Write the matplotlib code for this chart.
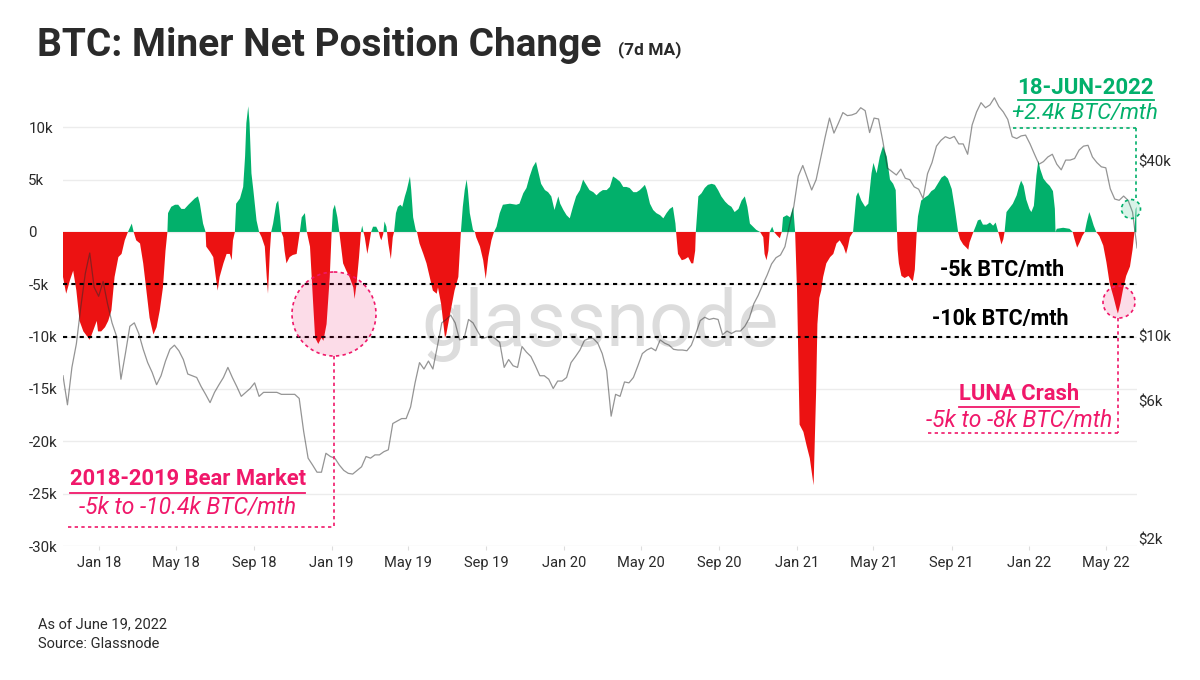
import matplotlib
matplotlib.use("Agg")
import matplotlib.pyplot as plt
import matplotlib.dates as mdates
import matplotlib.transforms as mtransforms
from matplotlib.patches import Circle
from matplotlib.lines import Line2D
import pandas as pd

plt.rcParams['font.family'] = ['Roboto', 'DejaVu Sans']

# Miner net position change (7d MA), thousand BTC per month
net_dates = [
    '2017-11-05', '2017-11-10', '2017-11-16', '2017-11-21', '2017-11-26', '2017-12-01', '2017-12-07', '2017-12-12',
    '2017-12-17', '2017-12-22', '2017-12-28', '2017-12-30', '2018-01-04', '2018-01-10', '2018-01-15', '2018-01-20',
    '2018-01-25', '2018-01-31', '2018-02-05', '2018-02-10', '2018-02-15', '2018-02-21', '2018-02-24', '2018-02-28',
    '2018-03-06', '2018-03-11', '2018-03-16', '2018-03-21', '2018-03-27', '2018-04-01', '2018-04-06', '2018-04-11',
    '2018-04-15', '2018-04-18', '2018-04-19', '2018-04-24', '2018-04-30', '2018-05-05', '2018-05-10', '2018-05-15',
    '2018-05-21', '2018-05-26', '2018-05-31', '2018-06-05', '2018-06-08', '2018-06-13', '2018-06-17', '2018-06-18',
    '2018-06-24', '2018-06-29', '2018-07-03', '2018-07-06', '2018-07-09', '2018-07-15', '2018-07-20', '2018-07-25',
    '2018-07-28', '2018-07-30', '2018-08-02', '2018-08-04', '2018-08-10', '2018-08-15', '2018-08-18', '2018-08-20',
    '2018-08-23', '2018-08-25', '2018-08-28', '2018-08-31', '2018-09-05', '2018-09-09', '2018-09-13', '2018-09-18',
    '2018-09-21', '2018-09-23', '2018-09-26', '2018-09-28', '2018-10-01', '2018-10-06', '2018-10-09', '2018-10-12',
    '2018-10-14', '2018-10-17', '2018-10-19', '2018-10-22', '2018-10-27', '2018-11-01', '2018-11-07', '2018-11-12',
    '2018-11-15', '2018-11-20', '2018-11-23', '2018-11-28', '2018-12-03', '2018-12-06', '2018-12-11', '2018-12-16',
    '2018-12-19', '2018-12-24', '2018-12-29', '2019-01-01', '2019-01-03', '2019-01-06', '2019-01-10', '2019-01-13',
    '2019-01-14', '2019-01-19', '2019-01-24', '2019-01-29', '2019-02-04', '2019-02-06', '2019-02-09', '2019-02-13',
    '2019-02-16', '2019-02-18', '2019-02-20', '2019-02-22', '2019-02-26', '2019-03-01', '2019-03-04', '2019-03-07',
    '2019-03-12', '2019-03-16', '2019-03-18', '2019-03-20', '2019-03-23', '2019-03-25', '2019-03-28', '2019-03-31',
    '2019-04-04', '2019-04-07', '2019-04-09', '2019-04-12', '2019-04-15', '2019-04-19', '2019-04-22', '2019-04-26',
    '2019-04-29', '2019-05-04', '2019-05-06', '2019-05-09', '2019-05-13', '2019-05-15', '2019-05-19', '2019-05-25',
    '2019-05-30', '2019-06-04', '2019-06-09', '2019-06-15', '2019-06-17', '2019-06-22', '2019-06-25', '2019-06-28',
    '2019-06-30', '2019-07-03', '2019-07-08', '2019-07-13', '2019-07-19', '2019-07-23', '2019-07-26', '2019-07-29',
    '2019-08-01', '2019-08-03', '2019-08-06', '2019-08-11', '2019-08-14', '2019-08-16', '2019-08-22', '2019-08-27',
    '2019-08-31', '2019-09-04', '2019-09-09', '2019-09-13', '2019-09-17', '2019-09-22', '2019-09-27', '2019-10-08',
    '2019-10-18', '2019-10-23', '2019-10-29', '2019-11-03', '2019-11-08', '2019-11-13', '2019-11-18', '2019-11-21',
    '2019-11-26', '2019-12-02', '2019-12-07', '2019-12-12', '2019-12-17', '2019-12-23', '2019-12-26', '2019-12-31',
    '2020-01-05', '2020-01-10', '2020-01-15', '2020-01-20', '2020-01-26', '2020-01-31', '2020-02-05', '2020-02-10',
    '2020-02-16', '2020-02-21', '2020-02-26', '2020-03-02', '2020-03-08', '2020-03-13', '2020-03-18', '2020-03-23',
    '2020-03-29', '2020-04-03', '2020-04-08', '2020-04-13', '2020-04-19', '2020-04-24', '2020-04-29', '2020-05-04',
    '2020-05-07', '2020-05-10', '2020-05-15', '2020-05-20', '2020-05-25', '2020-05-31', '2020-06-05', '2020-06-10',
    '2020-06-15', '2020-06-20', '2020-06-24', '2020-06-25', '2020-06-28', '2020-07-04', '2020-07-09', '2020-07-14',
    '2020-07-19', '2020-07-22', '2020-07-25', '2020-07-26', '2020-07-30', '2020-08-04', '2020-08-09', '2020-08-14',
    '2020-08-20', '2020-08-25', '2020-08-30', '2020-09-04', '2020-09-10', '2020-09-15', '2020-09-20', '2020-09-25',
    '2020-10-01', '2020-10-06', '2020-10-11', '2020-10-15', '2020-10-19', '2020-10-24', '2020-10-29', '2020-11-04',
    '2020-11-09', '2020-11-11', '2020-11-14', '2020-11-17', '2020-11-19', '2020-11-23', '2020-11-26', '2020-11-30',
    '2020-12-05', '2020-12-08', '2020-12-10', '2020-12-16', '2020-12-21', '2020-12-26', '2020-12-29', '2021-01-01',
    '2021-01-03', '2021-01-05', '2021-01-11', '2021-01-16', '2021-01-21', '2021-01-24', '2021-01-27', '2021-01-31',
    '2021-02-02', '2021-02-05', '2021-02-08', '2021-02-11', '2021-02-16', '2021-02-22', '2021-02-27', '2021-03-04',
    '2021-03-09', '2021-03-15', '2021-03-19', '2021-03-22', '2021-03-25', '2021-03-30', '2021-04-04', '2021-04-07',
    '2021-04-12', '2021-04-18', '2021-04-23', '2021-04-28', '2021-05-01', '2021-05-06', '2021-05-11', '2021-05-16',
    '2021-05-22', '2021-05-27', '2021-06-01', '2021-06-05', '2021-06-07', '2021-06-08', '2021-06-10', '2021-06-14',
    '2021-06-19', '2021-06-25', '2021-06-30', '2021-07-02', '2021-07-05', '2021-07-08', '2021-07-10', '2021-07-15',
    '2021-07-21', '2021-07-26', '2021-07-31', '2021-08-05', '2021-08-11', '2021-08-16', '2021-08-21', '2021-08-26',
    '2021-09-01', '2021-09-06', '2021-09-11', '2021-09-14', '2021-09-19', '2021-09-24', '2021-09-27', '2021-09-29',
    '2021-10-05', '2021-10-09', '2021-10-12', '2021-10-16', '2021-10-20', '2021-10-26', '2021-10-31', '2021-11-05',
    '2021-11-09', '2021-11-13', '2021-11-16', '2021-11-18', '2021-11-21', '2021-11-23', '2021-11-26', '2021-12-01',
    '2021-12-06', '2021-12-12', '2021-12-16', '2021-12-19', '2021-12-23', '2021-12-27', '2022-01-01', '2022-01-04',
    '2022-01-08', '2022-01-12', '2022-01-15', '2022-01-18', '2022-01-23', '2022-01-28', '2022-02-02', '2022-02-07',
    '2022-02-10', '2022-02-11', '2022-02-13', '2022-02-23', '2022-03-05', '2022-03-10', '2022-03-13', '2022-03-17',
    '2022-03-21', '2022-03-25', '2022-03-29', '2022-04-01', '2022-04-05', '2022-04-08', '2022-04-12', '2022-04-16',
    '2022-04-21', '2022-04-27', '2022-05-02', '2022-05-07', '2022-05-13', '2022-05-18', '2022-05-20', '2022-05-24',
    '2022-05-28', '2022-06-02', '2022-06-08', '2022-06-12', '2022-06-15', '2022-06-17', '2022-06-18',
]
net_values = [
    -4.3, -5.9, -4.6, -3.7, -5.6, -8.5, -9.5, -9.9,
    -10.3, -9.5, -8.5, -9.5, -9.5, -9.1, -8.5, -7.5,
    -4.3, -2.4, -2.1, -0.8, 0.0, 0.8, 0.0, -0.8,
    -1.1, -3.0, -5.6, -8.2, -9.8, -9.1, -7.5, -5.3,
    -1.8, 0.0, 1.8, 2.4, 2.6, 2.6, 2.2, 2.2,
    2.6, 2.9, 3.2, 3.4, 2.7, 0.8, 0.0, -1.4,
    -1.9, -2.4, -4.3, -5.6, -4.3, -3.0, -2.1, -2.1,
    -2.7, -0.8, 0.0, 2.7, 3.2, 4.3, 7.2, 10.4,
    12.0, 10.4, 5.6, 4.0, 1.1, 0.0, -0.5, -1.4,
    -4.3, -5.9, -1.8, 0.0, 0.8, 2.7, 3.0, 1.4,
    0.0, -0.5, -1.8, -3.0, -2.4, -2.2, -2.1, 0.0,
    1.4, 1.8, 0.0, -1.4, -6.9, -10.1, -10.7, -10.1,
    -10.4, -8.8, -4.3, 0.0, 2.1, 2.6, 1.4, 0.0,
    -0.5, -3.0, -3.7, -4.3, -5.3, -6.4, -5.0, -2.4,
    0.0, 0.6, 0.0, -0.5, -2.1, -1.1, 0.0, 0.5,
    0.5, 0.0, -0.5, -0.8, -0.2, 1.0, 0.5, -1.1,
    -2.6, -0.5, 0.0, 1.8, 2.4, 2.6, 2.4, 3.4,
    4.0, 5.3, 4.0, 1.4, 0.2, 0.0, -1.1, -2.1,
    -3.0, -4.3, -5.6, -5.9, -5.3, -6.9, -8.5, -10.1,
    -9.8, -8.8, -7.2, -5.6, -4.3, 0.0, 2.4, 4.0,
    5.0, 4.0, 1.8, 0.2, 0.0, -0.5, -1.4, -2.7,
    -4.5, -2.4, -0.8, 0.0, 0.5, 1.8, 2.6, 2.7,
    2.6, 2.7, 3.7, 4.2, 5.3, 6.2, 6.7, 5.9,
    4.6, 4.0, 3.8, 3.4, 2.1, 3.4, 2.7, 2.1,
    1.6, 1.3, 2.4, 3.4, 4.0, 5.0, 4.5, 4.0,
    3.8, 3.5, 3.8, 4.0, 4.0, 4.3, 5.3, 5.1,
    4.8, 4.3, 4.3, 4.2, 3.8, 3.8, 4.0, 4.3,
    4.5, 4.0, 2.7, 2.1, 1.8, 1.6, 1.3, 1.8,
    2.2, 2.4, 0.8, 0.0, -2.1, -2.7, -2.6, -2.4,
    -3.0, -3.0, -1.8, 0.0, 3.4, 3.7, 4.2, 4.5,
    4.6, 4.5, 4.0, 3.4, 2.9, 2.6, 2.4, 1.9,
    2.2, 3.0, 3.4, 2.4, 0.8, 0.5, 0.2, 0.0,
    -0.5, -2.1, -2.7, -1.8, 0.0, 0.5, 0.0, -0.3,
    -0.6, 0.0, 1.4, 1.6, 1.4, 2.4, 0.0, -5.6,
    -12.0, -18.4, -19.1, -20.4, -21.6, -22.9, -24.2, -15.2,
    -8.8, -6.3, -5.6, -4.3, -3.0, -2.4, -2.1, -1.1,
    -0.8, -1.4, -2.1, -1.4, -0.5, 0.0, 3.4, 3.8,
    3.0, 2.4, 2.7, 5.6, 6.6, 5.6, 7.2, 8.2,
    7.2, 5.0, 4.6, 4.0, 0.0, -1.7, -3.0, -4.2,
    -4.4, -4.2, -4.6, -4.7, -3.6, 0.0, 1.5, 3.0,
    3.3, 3.5, 3.9, 4.1, 4.7, 5.2, 5.4, 5.1,
    4.1, 2.2, 0.0, -0.7, -1.2, -1.5, -1.7, -1.0,
    0.0, 0.6, 1.1, 1.2, 0.7, 0.7, 0.9, 0.6,
    0.9, 0.0, -0.7, -1.2, -0.7, 0.0, 1.9, 2.3,
    2.7, 3.5, 4.4, 4.9, 4.4, 3.1, 2.2, 1.9,
    2.5, 5.4, 6.8, 6.0, 5.1, 4.7, 4.4, 3.9,
    2.2, 0.0, 0.3, 0.4, 0.3, 0.0, -0.7, -1.5,
    -1.0, -0.4, 0.0, 0.9, 1.9, 1.4, 0.6, 0.0,
    -0.4, -1.3, -2.9, -4.9, -6.2, -7.4, -7.8, -6.8,
    -5.5, -4.2, -3.3, -1.7, 0.0, 2.2, 2.4,
]

# BTC price, weekly (Sundays), thousand USD
price_start = '2017-11-05'
price_end = '2022-06-19'
price_k = [
    7.3, 5.8, 7.8, 9.4, 12.6, 16.4, 19.3, 14.7, 13.7, 15.4,
    12.9, 11.1, 10.0, 7.1, 8.7, 10.8, 11.1, 10.2, 9.0, 8.1,
    7.5, 6.8, 7.3, 8.2, 9.0, 9.3, 8.9, 8.3, 7.4, 7.3,
    7.2, 6.7, 6.3, 5.9, 6.4, 6.8, 7.2, 7.8, 7.2, 6.7,
    6.2, 6.4, 6.6, 6.9, 6.2, 6.4, 6.4, 6.4, 6.4, 6.3,
    6.3, 6.3, 6.3, 6.1, 4.7, 3.8, 3.6, 3.4, 3.4, 3.95,
    3.85, 3.8, 3.6, 3.45, 3.37, 3.35, 3.45, 3.55, 3.85, 3.8,
    3.9, 3.9, 4.0, 4.06, 5.0, 5.1, 5.2, 5.2, 5.7, 6.9,
    8.1, 7.7, 8.2, 7.7, 9.2, 11.1, 11.4, 11.8, 11.1, 9.7,
    9.8, 11.4, 11.1, 10.4, 9.8, 9.9, 10.0, 9.8, 9.5, 7.8,
    8.3, 7.9, 7.8, 9.2, 8.8, 8.5, 7.9, 7.3, 7.3, 7.1,
    6.6, 7.0, 7.0, 7.2, 8.1, 8.5, 8.95, 9.65, 9.8, 9.8,
    9.45, 8.7, 7.6, 5.3, 6.3, 6.2, 6.95, 6.9, 7.2, 7.9,
    8.7, 8.95, 9.1, 8.9, 9.7, 9.45, 9.3, 9.0, 8.95, 8.95,
    8.9, 9.3, 10.2, 11.3, 11.6, 11.4, 11.5, 11.4, 10.1, 10.4,
    10.2, 10.4, 10.4, 10.8, 11.5, 12.9, 13.8, 15.0, 16.2, 17.7,
    18.6, 19.0, 20.3, 24.0, 28.0, 35.5, 38.6, 35.0, 31.8, 34.5,
    40.8, 48.2, 56.2, 49.9, 54.0, 58.7, 57.3, 57.6, 58.4, 61.0,
    59.6, 50.1, 56.2, 55.8, 46.5, 37.8, 36.8, 35.8, 37.5, 34.9,
    34.5, 32.6, 32.0, 29.7, 36.2, 39.5, 45.0, 47.1, 48.5, 47.8,
    48.6, 45.8, 45.8, 42.2, 53.2, 59.0, 63.5, 61.0, 62.4, 66.0,
    61.6, 59.0, 55.6, 48.5, 47.8, 48.8, 49.1, 45.8, 42.2, 39.0,
    39.8, 41.3, 42.2, 39.0, 37.3, 40.3, 40.3, 40.8, 43.6, 45.0,
    45.3, 41.3, 39.5, 38.2, 37.9, 32.1, 29.6, 29.3, 30.3, 29.3,
    26.7, 20.1,
]

net_ticks = [10, 5, 0, -5, -10, -15, -20, -25, -30]
net_tick_labels = ['10k', '5k', '0', '-5k', '-10k', '-15k', '-20k', '-25k', '-30k']
price_ticks = [2000, 6000, 10000, 40000]
price_tick_labels = ['$2k', '$6k', '$10k', '$40k']
threshold_levels = [-5, -10]

GREEN = '#02b06b'
RED = '#ec1212'
PINK = '#f0186a'
TEXT = '#2a2a2a'

W, H = 1200, 680
fig = plt.figure(figsize=(W / 100, H / 100), dpi=100)
fig.patch.set_facecolor('white')
# pixel coordinates measured from the top-left corner
px = mtransforms.Affine2D().scale(1 / W, -1 / H).translate(0, 1) + fig.transFigure

ax = fig.add_axes([63 / W, 1 - 546 / H, 1074 / W, 456 / H])
ax2 = ax.twinx()

nd = pd.to_datetime(net_dates)
nv = pd.Series(net_values).to_numpy()
pd_dates = pd.date_range(price_start, price_end, freq='W-SUN')
prices = [p * 1000 for p in price_k]

ax.fill_between(nd, nv, 0, where=nv >= 0, interpolate=True, color=GREEN, lw=0, zorder=2)
ax.fill_between(nd, nv, 0, where=nv <= 0, interpolate=True, color=RED, lw=0, zorder=2)

for lvl in threshold_levels:
    ax.axhline(lvl, color='black', lw=1.5, ls=(0, (2, 2)), zorder=3)

ax.text(0.5, 0.485, 'glassnode', transform=ax.transAxes, ha='center', va='center',
        fontsize=56, color='#dcdcdc', zorder=1)

ax.set_xlim(pd.Timestamp(price_start), pd.Timestamp(price_end))
ax.set_ylim(-30, 13.56)
ax.set_yticks(net_ticks)
ax.set_yticklabels(net_tick_labels)
ax.grid(axis='y', color='#ececec', lw=1)
ax.set_axisbelow(True)
ax.tick_params(axis='y', length=0, pad=25, labelsize=10.8, labelcolor=TEXT)
for lbl in ax.get_yticklabels():
    lbl.set_horizontalalignment('left')
ax.xaxis.set_major_locator(mdates.MonthLocator(bymonth=[1, 5, 9]))
ax.xaxis.set_major_formatter(mdates.DateFormatter('%b %y'))
ax.tick_params(axis='x', length=3, color='#dddddd', pad=4, labelsize=10.5, labelcolor=TEXT)
for s in ax.spines.values():
    s.set_visible(False)

ax2.plot(pd_dates, prices, color='#2b2b2b', lw=0.9, alpha=0.5, zorder=4)
ax2.set_yscale('log')
ax2.set_ylim(1895, 70200)
ax2.set_yticks(price_ticks)
ax2.set_yticklabels(price_tick_labels)
ax2.yaxis.set_minor_locator(matplotlib.ticker.NullLocator())
ax2.tick_params(axis='y', length=0, pad=1, labelsize=10.8, labelcolor=TEXT)
for s in ax2.spines.values():
    s.set_visible(False)

# title and footer
fig.text(37, 46, 'BTC: Miner Net Position Change', transform=px, fontsize=28, weight='bold',
         color=TEXT, va='center', ha='left')
fig.text(618, 50, '(7d MA)', transform=px, fontsize=12.5, weight='bold', color=TEXT, va='center')
fig.text(38, 624, 'As of June 19, 2022', transform=px, fontsize=10.5, color=TEXT, va='center')
fig.text(38, 644, 'Source: Glassnode', transform=px, fontsize=10.5, color=TEXT, va='center')

# threshold labels
fig.text(1002, 270, '-5k BTC/mth', transform=px, fontsize=15.5, weight='bold', color='black',
         ha='center', va='center')
fig.text(1000, 319, '-10k BTC/mth', transform=px, fontsize=15.5, weight='bold', color='black',
         ha='center', va='center')


def dashed(xs, ys, color):
    fig.add_artist(Line2D(xs, ys, transform=px, color=color, lw=1.2, ls=(0, (2, 2))))


def solid(xs, ys, color):
    fig.add_artist(Line2D(xs, ys, transform=px, color=color, lw=1.3))


def ring(cx, cy, r, color):
    fig.add_artist(Circle((cx, cy), r, transform=px, facecolor=color, alpha=0.15, lw=0))
    fig.add_artist(Circle((cx, cy), r, transform=px, facecolor='none', edgecolor=color, lw=1.2,
                          ls=(0, (2, 2))))


# 2018-2019 bear market callout
ring(334, 314, 42, PINK)
dashed([334, 334], [356, 527], PINK)
dashed([68, 334], [527, 527], PINK)
fig.text(188, 479, '2018-2019 Bear Market', transform=px, fontsize=15.8, weight='bold', color=PINK,
         ha='center', va='center')
solid([70, 305], [493, 493], PINK)
fig.text(188, 507, '-5k to -10.4k BTC/mth', transform=px, fontsize=16.5, style='italic', color=PINK,
         ha='center', va='center')

# LUNA callout
ring(1119, 302, 16, PINK)
dashed([1118, 1118], [318, 433], PINK)
dashed([928, 1118], [433, 433], PINK)
fig.text(1019, 394, 'LUNA Crash', transform=px, fontsize=15.8, weight='bold', color=PINK,
         ha='center', va='center')
solid([959, 1079], [407, 407], PINK)
fig.text(1019, 420, '-5k to -8k BTC/mth', transform=px, fontsize=16.5, style='italic', color=PINK,
         ha='center', va='center')

# latest reading callout
ring(1131, 209, 9.5, GREEN)
dashed([1013, 1136], [128, 128], GREEN)
dashed([1136, 1136], [128, 200], GREEN)
fig.text(1154, 88, '18-JUN-2022', transform=px, fontsize=16, weight='bold', color=GREEN,
         ha='right', va='center')
solid([1018, 1154], [100, 100], GREEN)
fig.text(1158, 114, '+2.4k BTC/mth', transform=px, fontsize=16, style='italic', color=GREEN,
         ha='right', va='center')

fig.savefig('out.png', dpi=100, facecolor='white')
